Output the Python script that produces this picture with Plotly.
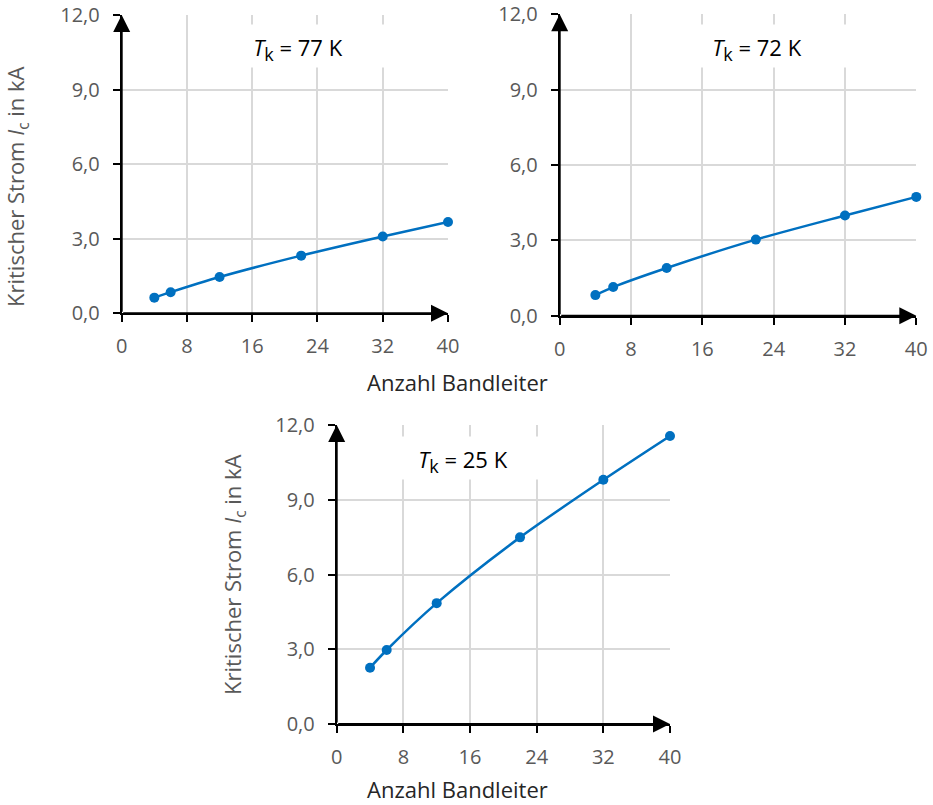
import plotly.graph_objects as go

# Critical current of stacked tape conductors vs. number of tapes
n_tapes = [4, 6, 12, 22, 32, 40]
ic_77k = [0.63, 0.85, 1.46, 2.32, 3.09, 3.67]
ic_72k = [0.82, 1.14, 1.90, 3.03, 3.99, 4.73]
ic_25k = [2.26, 2.97, 4.85, 7.49, 9.80, 11.56]

x_ticks = [0, 8, 16, 24, 32, 40]
y_ticks = [0, 3, 6, 9, 12]
temps = ["77 K", "72 K", "25 K"]

W, H = 933, 805
BLUE = "#0070C0"
GREY = "#595959"
FONT = "Open Sans"

# plot-area boxes in pixels: (left, right, top, bottom)
boxes = [(121.7, 448.0, 15.0, 313.3),
         (559.7, 916.3, 14.3, 315.7),
         (336.7, 670.0, 425.0, 724.0)]

fig = go.Figure()
series = [ic_77k, ic_72k, ic_25k]

for i, (vals, box) in enumerate(zip(series, boxes)):
    sfx = "" if i == 0 else str(i + 1)
    l, r, t, b = box
    fig.add_trace(go.Scatter(
        x=n_tapes, y=vals, xaxis="x" + sfx, yaxis="y" + sfx,
        mode="lines+markers",
        line=dict(color=BLUE, width=2.5, shape="spline", smoothing=0.8),
        marker=dict(color=BLUE, size=10),
        cliponaxis=False, showlegend=False, hoverinfo="skip"))

    common = dict(showgrid=True, gridcolor="#d9d9d9", gridwidth=1.5,
                  showline=True, linecolor="black", linewidth=2,
                  ticks="outside", ticklen=7, tickwidth=2, tickcolor="black",
                  tickfont=dict(family=FONT, size=20, color=GREY),
                  zeroline=False, fixedrange=True, automargin=False)
    fig.layout["xaxis" + sfx] = dict(
        common, range=[0, 40], tickvals=x_ticks, ticklabelstandoff=7,
        domain=[l / W, r / W], anchor="y" + sfx)
    fig.layout["yaxis" + sfx] = dict(
        common, range=[0, 12], tickvals=y_ticks, tickformat=".1f",
        ticklabelstandoff=9,
        domain=[1 - b / H, 1 - t / H], anchor="x" + sfx)

    xr, yr = "x" + sfx, "y" + sfx
    # arrow-tipped axes
    for (tx, ty) in [(0, 12), (40, 0)]:
        fig.add_annotation(x=tx, y=ty, ax=0, ay=0, xref=xr, yref=yr,
                           axref=xr, ayref=yr, text="", showarrow=True,
                           arrowhead=2, arrowsize=1.7, arrowwidth=2,
                           arrowcolor="black", standoff=0)

# temperature labels (white box hides the grid behind the text)
label_pos = [(21.6, 10.77), (22.1, 10.72), (15.2, 10.67)]
for i, ((lx, ly), temp) in enumerate(zip(label_pos, temps)):
    sfx = "" if i == 0 else str(i + 1)
    fig.add_annotation(
        x=lx, y=ly, xref="x" + sfx, yref="y" + sfx,
        xanchor="center", yanchor="middle", valign="bottom",
        text="<i>T</i><sub><span style='font-size:18px'>k</span></sub> = " + temp,
        showarrow=False, bgcolor="white", width=190, height=40,
        font=dict(family=FONT, size=22, color="black"))

# axis titles
ytitle = "Kritischer Strom <i>I</i><sub>c</sub> in kA"
for (px, py) in [(17, 187), (234, 575)]:
    fig.add_annotation(x=px / W, y=1 - py / H, xref="paper", yref="paper",
                       xanchor="center", yanchor="middle",
                       text=ytitle, textangle=-90, showarrow=False,
                       font=dict(family=FONT, size=22, color=GREY))
for (px, py) in [(457, 382), (457, 789)]:
    fig.add_annotation(x=px / W, y=1 - py / H, xref="paper", yref="paper",
                       xanchor="center", yanchor="middle",
                       text="Anzahl Bandleiter", showarrow=False,
                       font=dict(family=FONT, size=22, color="#262626"))

fig.update_layout(width=W, height=H,
                  margin=dict(l=0, r=0, t=0, b=0, pad=0, autoexpand=False),
                  paper_bgcolor="white", plot_bgcolor="white",
                  separators=",.", font=dict(family=FONT))

fig.write_html("out.html", config={"displayModeBar": False})
